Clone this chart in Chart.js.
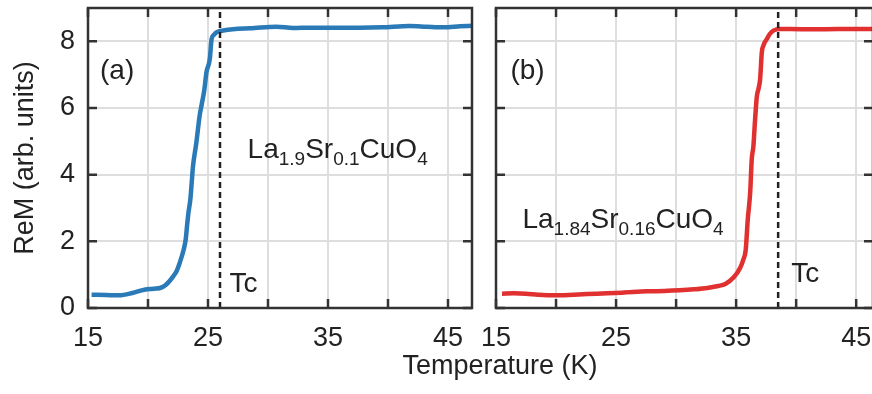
<!DOCTYPE html>
<html>
<head>
<meta charset="utf-8">
<script src="https://cdn.jsdelivr.net/npm/chart.js@4/dist/chart.umd.min.js"></script>
<style>
    html, body { margin: 0; padding: 0; background: #fff; overflow: hidden; }
    #wrap { position: relative; width: 872px; height: 394px; }
    #leftBox { position: absolute; left: 0; top: 0; }
    #rightBox { position: absolute; left: 480px; top: 0; }
    #xTitle {
        position: absolute; left: 0; width: 1000px; top: 350px;
        text-align: center; font: 27px "Liberation Sans", Arial, sans-serif;
        color: #222; line-height: 30px;
    }
</style>
</head>
<body>
<div id="wrap">
    <canvas id="leftBox" width="480" height="394"></canvas>
    <canvas id="rightBox" width="394" height="394"></canvas>
    <div id="xTitle">Temperature (K)</div>
</div>
<script>
// x10 sample: La1.9Sr0.1CuO4
const tempA = [15.3, 16.5, 17.6, 18.7, 19.7, 20.5, 21.0, 21.5, 22.1, 22.4, 22.64, 22.97, 23.14, 23.25, 23.37,
    23.53, 23.65, 23.75, 24.03, 24.3, 24.45, 24.7, 24.87, 25.15, 25.3, 25.5, 25.7, 26.0, 26.5, 27.5, 28.5,
    30.7, 32.1, 33.5, 35.5, 37.6, 39.5, 41.8, 43.2, 44.6, 46.0, 47.0];
const remA = [0.40, 0.39, 0.38, 0.45, 0.55, 0.58, 0.60, 0.70, 0.95, 1.12, 1.35, 1.75, 2.05, 2.45, 2.86,
    3.26, 3.8, 4.25, 4.96, 5.76, 6.06, 6.56, 7.07, 7.47, 8.07, 8.2, 8.27, 8.31, 8.34, 8.38, 8.39,
    8.44, 8.40, 8.41, 8.41, 8.41, 8.42, 8.46, 8.44, 8.42, 8.45, 8.47];
const tcA = 26.0;

// x16 sample: La1.84Sr0.16CuO4
const tempB = [15.5, 16.5, 17.5, 18.5, 19.8, 21.5, 23.4, 25.5, 27.6, 29.0, 30.3, 31.5, 32.6, 33.5, 34.1,
    34.8, 35.33, 35.6, 35.8, 35.97, 36.17, 36.3, 36.44, 36.58, 36.73, 36.86, 37.0, 37.14, 37.3, 37.56,
    37.8, 38.1, 38.67, 39.5, 41.4, 43.5, 46.4];
const remB = [0.43, 0.44, 0.43, 0.40, 0.38, 0.40, 0.43, 0.46, 0.50, 0.51, 0.53, 0.56, 0.60, 0.66, 0.72,
    0.92, 1.2, 1.45, 1.75, 2.66, 3.46, 4.46, 4.86, 5.66, 6.36, 6.57, 6.87, 7.67, 7.9, 8.07,
    8.22, 8.32, 8.37, 8.37, 8.36, 8.37, 8.37];
const tcB = 38.5;

const xGrid = [15, 20, 25, 30, 35, 40, 45];
const xLabels = [15, 25, 35, 45];
const yTicks = [0, 2, 4, 6, 8];
const yRange = [0, 9];

const FONT = '"Liberation Sans", Arial, sans-serif';
Chart.defaults.font.family = FONT;
Chart.defaults.font.size = 27;
Chart.defaults.color = '#222';

// box round the plot with inward ticks on every side
const frame = {
    id: "frame",
    afterDraw(chart) {
        const { ctx, chartArea: a, scales: { x, y } } = chart;
        ctx.save();
        ctx.strokeStyle = "#333";
        ctx.lineWidth = 2.5;
        ctx.beginPath();
        x.ticks.forEach(t => {
            const px = x.getPixelForValue(t.value);
            ctx.moveTo(px, a.bottom); ctx.lineTo(px, a.bottom - 9);
            ctx.moveTo(px, a.top); ctx.lineTo(px, a.top + 9);
        });
        y.ticks.forEach(t => {
            const py = y.getPixelForValue(t.value);
            ctx.moveTo(a.left, py); ctx.lineTo(a.left + 9, py);
            ctx.moveTo(a.right, py); ctx.lineTo(a.right - 9, py);
        });
        ctx.stroke();
        ctx.strokeRect(a.left, a.top, a.right - a.left, a.bottom - a.top);
        ctx.restore();
    }
};

// panel letter, Tc mark and the compound name with subscripts
const notes = {
    id: "notes",
    afterDatasetsDraw(chart, args, o) {
        const { ctx, scales: { x, y } } = chart;
        ctx.save();
        ctx.fillStyle = "#222";
        ctx.textBaseline = "alphabetic";
        ctx.font = "28px " + FONT;
        ctx.fillText(o.panel, x.getPixelForValue(o.panelAt[0]), y.getPixelForValue(o.panelAt[1]));
        ctx.fillText("Tc", x.getPixelForValue(o.tcAt[0]), y.getPixelForValue(o.tcAt[1]));

        let px = x.getPixelForValue(o.nameAt[0]);
        const base = y.getPixelForValue(o.nameAt[1]);
        o.name.forEach(([txt, sub]) => {
            ctx.font = (sub ? "19px " : "28px ") + FONT;
            ctx.fillText(txt, px, base + (sub ? 7 : 0));
            px += ctx.measureText(txt).width;
        });
        ctx.restore();
    }
};

function makePanel(canvasId, temps, rems, tc, color, xMax, leftW, padRight, notesOpts, showY) {
    const curve = temps.map((t, i) => ({ x: t, y: rems[i] }));
    return new Chart(document.getElementById(canvasId), {
        type: "line",
        data: {
            datasets: [{
                data: [{ x: tc, y: yRange[0] }, { x: tc, y: yRange[1] }],
                borderColor: "#222",
                borderWidth: 2.5,
                borderDash: [6, 4],
                pointRadius: 0
            }, {
                data: curve,
                borderColor: color,
                borderWidth: 4.5,
                pointRadius: 0,
                cubicInterpolationMode: "monotone"
            }]
        },
        options: {
            responsive: false,
            animation: false,
            events: [],
            layout: { padding: { top: 8, right: padRight, left: 0, bottom: 0 } },
            plugins: {
                legend: { display: false },
                tooltip: { enabled: false },
                notes: notesOpts
            },
            scales: {
                x: {
                    type: "linear",
                    min: 15,
                    max: xMax,
                    afterBuildTicks: s => { s.ticks = xGrid.map(v => ({ value: v })); },
                    afterFit: s => { s.height = 86; s.paddingLeft = 0; s.paddingRight = 0; },
                    ticks: {
                        padding: 14,
                        color: "#222",
                        callback: v => xLabels.includes(v) ? String(v) : ""
                    },
                    grid: { color: "#dedede", lineWidth: 2, drawTicks: false },
                    border: { display: false }
                },
                y: {
                    min: yRange[0],
                    max: yRange[1],
                    afterBuildTicks: s => { s.ticks = yTicks.map(v => ({ value: v })); },
                    afterFit: s => { s.width = leftW; s.paddingTop = 0; s.paddingBottom = 0; },
                    ticks: { display: showY, padding: 13, color: "#222" },
                    grid: { color: "#dedede", lineWidth: 2, drawTicks: false },
                    border: { display: false },
                    title: {
                        display: showY,
                        text: "ReM (arb. units)",
                        color: "#222",
                        font: { size: 27 },
                        padding: { top: 9, bottom: 0 }
                    }
                }
            }
        },
        plugins: [frame, notes]
    });
}

makePanel("leftBox", tempA, remA, tcA, "#2a7ab8", 47, 88, 8, {
    panel: "(a)", panelAt: [16.0, 6.87],
    tcAt: [26.8, 0.47],
    nameAt: [28.3, 4.5],
    name: [["La", false], ["1.9", true], ["Sr", false], ["0.1", true], ["CuO", false], ["4", true]]
}, true);

makePanel("rightBox", tempB, remB, tcB, "#e0302f", 46.4, 16, 1, {
    panel: "(b)", panelAt: [16.2, 6.87],
    tcAt: [39.6, 0.77],
    nameAt: [17.2, 2.4],
    name: [["La", false], ["1.84", true], ["Sr", false], ["0.16", true], ["CuO", false], ["4", true]]
}, false);
</script>
</body>
</html>
